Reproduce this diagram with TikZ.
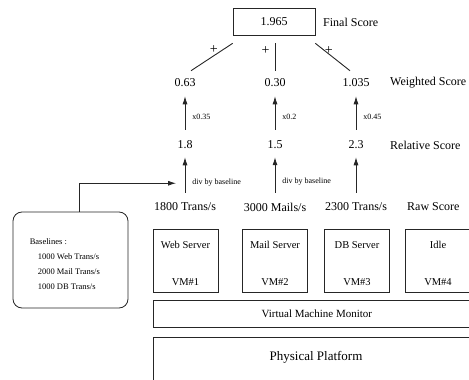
\documentclass[tikz,border=0pt]{standalone}
\usepackage{fontspec}
\setmainfont{Liberation Serif}
\usetikzlibrary{
	positioning				% relative placement
	, arrows.meta			% Latex arrow tips
	, calc					% coordinate arithmetic
}

\begin{document}
\begin{tikzpicture}[
			x=1pt, y=-1pt,
			score/.style={
				font=\fontsize{12}{14}\selectfont,
				inner sep=1pt
			},
			caption/.style={
				score,
				anchor=west
			},
			plus/.style={
				font=\fontsize{14}{16}\selectfont,
				inner sep=1pt
			},
			tiny/.style={
				font=\fontsize{8}{10}\selectfont,
				inner sep=1pt
			},
			vmbox/.style={
				draw=black!85,
				line width=0.7pt,
				minimum width=65pt,
				minimum height=63pt
			},
			layer/.style={
				draw=black!85,
				line width=0.7pt,
				anchor=north west,
				minimum width=327pt
			},
			arrow/.style={
				->,
				line width=0.8pt,
				draw=black!85
			},
			plain/.style={
				line width=0.9pt,
				draw=black!85
			},
			>={Latex[length=8pt,width=5pt]}]

			\useasboundingbox (0,0) rectangle (469,380);

			%%% Final score on top
			\node [draw=black!85, line width=0.7pt, minimum width=82pt, minimum height=27pt,
				font=\fontsize{12}{14}\selectfont] (final) at (274,21.5) {1.965};
			\node [caption] (finallbl) at (322,22) {Final Score};

			%%% The three columns of scores
			\foreach [count=\i] \wval/\rval/\raw/\x in {0.63/1.8/1800 Trans\slash s/185,
				0.30/1.5/3000 Mails\slash s/275, 1.035/2.3/2300 Trans\slash s/356} {
				\node [score] (w\i) at (\x,83) {\wval};
				\node [score] (r\i) at (\x,145) {\rval};
				\node [score] (raw\i) at (\x,207) {\raw};
			};

			\node [caption] (wlbl) at (389,83) {Weighted Score};
			\node [caption] (rlbl) at (389,145) {Relative Score};
			\node [caption] (rawlbl) at (406,207) {Raw Score};

			%%% Sum lines
			\draw [plain] ($(final.south west)+(0,8)$) -- ($(w1.north)+(6,-7)$)
				node [plus, pos=0.45, above=1pt] {+};
			\draw [plain] ($(final.south -| w2.north)+(0,8)$) -- ($(w2.north)+(0,-7)$)
				node [plus, pos=0.25, left=4pt] {+};
			\draw [plain] ($(final.south east)+(0,8)$) -- ($(w3.north)+(-6,-7)$)
				node [plus, pos=0.3, above=-4pt, xshift=3pt] {+};

			%%% Weights
			\foreach [count=\i] \wgt in {x0.35, x0.2, x0.45} {
				\draw [arrow, shorten <=10pt, shorten >=8pt] (r\i.north) -- (w\i.south)
					node [tiny, pos=0.45, right=6pt] {\wgt};
			};

			%%% Division by the baselines
			\draw [arrow, shorten <=9pt, shorten >=7pt] (raw1.north) -- (r1.south)
				node [tiny, pos=0.38, right=6pt] {div by baseline};
			\draw [arrow, shorten <=9pt, shorten >=7pt] (raw2.north) -- (r2.south)
				node [tiny, pos=0.38, right=6pt] {div by baseline};
			\draw [arrow, shorten <=9pt, shorten >=7pt] (raw3.north) -- (r3.south);

			%%% Baselines box
			\node [draw=black!85, line width=0.8pt, rounded corners=9pt,
				minimum width=115pt, minimum height=96pt] (baseline) at (70.5,260) {};
			\node [tiny, font=\fontsize{8.5}{15}\selectfont, align=left, anchor=north west]
				(basetext) at ($(baseline.north west)+(16,26)$)
				{Baselines :\\\hspace{8pt}1000 Web Trans/s\\\hspace{8pt}2000 Mail Trans/s\\\hspace{8pt}1000 DB Trans/s};
			\coordinate (divin) at ($(raw1.north)+(-9,-18.5)$);
			\draw [arrow] ($(baseline.north)+(8.5,0)$) |- (divin);

			%%% Virtual machines
			\foreach [count=\i] \vm/\x in {Web Server/185.5, Mail Server/275, DB Server/357, Idle/438} {
				\node [vmbox] (vm\i) at (\x,260.5) {};
				\node [tiny, font=\fontsize{10.5}{12}\selectfont] (vmname\i) at ($(vm\i.north)+(0,16)$) {\vm};
				\node [tiny, font=\fontsize{10.5}{12}\selectfont] (vmid\i) at ($(vm\i.south)+(0,-10)$) {VM\#\i};
			};

			%%% Monitor and platform
			\node [layer, minimum height=27pt, font=\fontsize{11}{13}\selectfont] (vmm) at (153,300) {Virtual Machine Monitor};
			\node [layer, minimum height=46pt] (platform) at (153,337) {};
			\node [tiny, font=\fontsize{13}{15}\selectfont] (platformtxt) at (316,357) {Physical Platform};

		\end{tikzpicture}
\end{document}
